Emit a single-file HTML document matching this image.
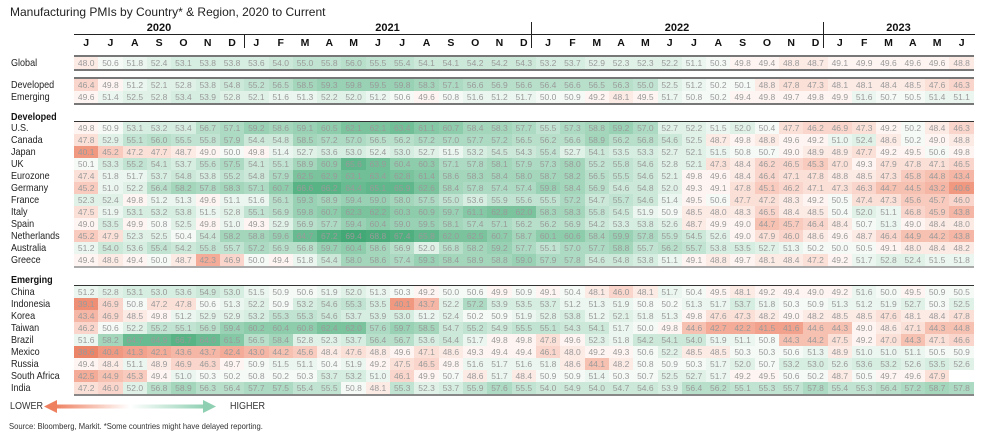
<!DOCTYPE html>
<html><head><meta charset="utf-8">
<style>
*{margin:0;padding:0;box-sizing:border-box}
body{width:984px;height:435px;background:#fff;position:relative;overflow:hidden;font-family:"Liberation Sans Narrow","Liberation Sans",sans-serif;color:#222}
.abs{position:absolute}
table{border-collapse:collapse;table-layout:fixed;width:900px}
td{height:12px;text-align:center;font-size:8.5px;color:#9a9a9a;padding:0;line-height:12px;overflow:hidden;white-space:nowrap}
.lab{position:absolute;left:11px;font-size:10.5px;color:#222;line-height:12px;transform:scaleX(0.86);transform-origin:left center;white-space:nowrap}
.hd{font-weight:bold;color:#111}
.k38{background:rgb(236,132,104)}.k39{background:rgb(238,142,116)}.k40{background:rgb(240,152,128)}.k41{background:rgb(242,162,140)}
.k42{background:rgb(244,172,152)}.k43{background:rgb(245,182,165)}.k44{background:rgb(247,193,178)}.k45{background:rgb(248,203,190)}
.k46{background:rgb(249,213,203)}.k47{background:rgb(251,224,216)}.k48{background:rgb(252,234,229)}.k49{background:rgb(254,245,242)}
.k50{background:rgb(245,250,247)}.k51{background:rgb(235,246,240)}.k52{background:rgb(224,241,232)}.k53{background:rgb(214,237,225)}
.k54{background:rgb(204,232,217)}.k55{background:rgb(193,228,210)}.k56{background:rgb(183,223,202)}.k57{background:rgb(173,218,195)}
.k58{background:rgb(163,214,187)}.k59{background:rgb(152,209,180)}.k60{background:rgb(142,205,172)}.k61{background:rgb(132,200,165)}
.k62{background:rgb(122,195,157)}.k63{background:rgb(113,191,151)}.k64{background:rgb(104,187,145)}.k65{background:rgb(96,183,139)}
.k66{background:rgb(88,179,133)}.k67{background:rgb(80,175,127)}.k68{background:rgb(72,171,121)}.k69{background:rgb(66,168,117)}
.mo td{font-size:10.5px;font-weight:bold;color:#111;height:14px}
</style></head><body>
<div class="abs" style="left:10px;top:5px;font-size:12px;color:#222;font-family:'Liberation Sans',sans-serif">Manufacturing PMIs by Country* &amp; Region, 2020 to Current</div>

<div class="abs hd" style="left:74px;top:22px;width:170px;text-align:center;font-size:11px">2020</div>
<div class="abs hd" style="left:244px;top:22px;width:287px;text-align:center;font-size:11px">2021</div>
<div class="abs hd" style="left:531px;top:22px;width:292px;text-align:center;font-size:11px">2022</div>
<div class="abs hd" style="left:823px;top:22px;width:151px;text-align:center;font-size:11px">2023</div>
<div class="abs" style="left:74px;top:34px;width:901px;height:1px;background:#222"></div>
<div class="abs" style="left:244px;top:35px;width:1px;height:13px;background:#222"></div>
<div class="abs" style="left:531px;top:22px;width:1px;height:26px;background:#222"></div>
<div class="abs" style="left:823px;top:22px;width:1px;height:26px;background:#222"></div>
<div class="abs" style="left:74px;top:36px"><table class="mo"><tr><td>J</td><td>J</td><td>A</td><td>S</td><td>O</td><td>N</td><td>D</td><td>J</td><td>F</td><td>M</td><td>A</td><td>M</td><td>J</td><td>J</td><td>A</td><td>S</td><td>O</td><td>N</td><td>D</td><td>J</td><td>F</td><td>M</td><td>A</td><td>M</td><td>J</td><td>J</td><td>A</td><td>S</td><td>O</td><td>N</td><td>D</td><td>J</td><td>F</td><td>M</td><td>A</td><td>M</td><td>J</td></tr></table></div>

<div class="lab" style="top:57px">Global</div>
<div class="abs" style="left:74px;top:55px;border-top:2px solid #777;border-bottom:2px solid #777"><table><tr><td class="k48">48.0</td><td class="k50">50.6</td><td class="k51">51.8</td><td class="k52">52.4</td><td class="k53">53.1</td><td class="k53">53.8</td><td class="k53">53.8</td><td class="k53">53.6</td><td class="k54">54.0</td><td class="k55">55.0</td><td class="k55">55.8</td><td class="k56">56.0</td><td class="k55">55.5</td><td class="k55">55.4</td><td class="k54">54.1</td><td class="k54">54.1</td><td class="k54">54.2</td><td class="k54">54.2</td><td class="k54">54.3</td><td class="k53">53.2</td><td class="k53">53.7</td><td class="k52">52.9</td><td class="k52">52.3</td><td class="k52">52.3</td><td class="k52">52.2</td><td class="k51">51.1</td><td class="k50">50.3</td><td class="k49">49.8</td><td class="k49">49.4</td><td class="k48">48.8</td><td class="k48">48.7</td><td class="k49">49.1</td><td class="k49">49.9</td><td class="k49">49.6</td><td class="k49">49.6</td><td class="k49">49.6</td><td class="k48">48.8</td></tr></table></div>

<div class="lab" style="top:79px">Developed</div>
<div class="lab" style="top:91px">Emerging</div>
<div class="abs" style="left:74px;top:77px;border-top:2px solid #777;border-bottom:2px solid #777"><table>
<tr><td class="k46">46.4</td><td class="k49">49.8</td><td class="k51">51.2</td><td class="k52">52.1</td><td class="k52">52.8</td><td class="k53">53.8</td><td class="k54">54.8</td><td class="k55">55.2</td><td class="k56">56.5</td><td class="k58">58.5</td><td class="k59">59.3</td><td class="k59">59.8</td><td class="k59">59.5</td><td class="k59">59.8</td><td class="k58">58.3</td><td class="k57">57.1</td><td class="k56">56.6</td><td class="k56">56.9</td><td class="k56">56.6</td><td class="k56">56.4</td><td class="k56">56.6</td><td class="k56">56.5</td><td class="k56">56.3</td><td class="k55">55.0</td><td class="k52">52.5</td><td class="k51">51.2</td><td class="k50">50.2</td><td class="k50">50.1</td><td class="k48">48.8</td><td class="k47">47.8</td><td class="k47">47.3</td><td class="k48">48.1</td><td class="k48">48.1</td><td class="k48">48.4</td><td class="k48">48.5</td><td class="k47">47.6</td><td class="k46">46.3</td></tr>
<tr><td class="k49">49.6</td><td class="k51">51.4</td><td class="k52">52.5</td><td class="k52">52.8</td><td class="k53">53.4</td><td class="k53">53.9</td><td class="k52">52.8</td><td class="k52">52.1</td><td class="k51">51.6</td><td class="k51">51.3</td><td class="k52">52.2</td><td class="k52">52.0</td><td class="k51">51.2</td><td class="k50">50.6</td><td class="k49">49.6</td><td class="k50">50.8</td><td class="k51">51.6</td><td class="k51">51.2</td><td class="k51">51.7</td><td class="k50">50.0</td><td class="k50">50.9</td><td class="k49">49.2</td><td class="k48">48.1</td><td class="k49">49.5</td><td class="k51">51.7</td><td class="k50">50.8</td><td class="k50">50.2</td><td class="k49">49.4</td><td class="k49">49.8</td><td class="k49">49.7</td><td class="k49">49.8</td><td class="k49">49.9</td><td class="k51">51.6</td><td class="k50">50.7</td><td class="k50">50.5</td><td class="k51">51.4</td><td class="k51">51.1</td></tr>
</table></div>

<div class="lab hd" style="top:111px">Developed</div>
<div class="lab" style="top:122px">U.S.</div>
<div class="lab" style="top:134px">Canada</div>
<div class="lab" style="top:146px">Japan</div>
<div class="lab" style="top:158px">UK</div>
<div class="lab" style="top:170px">Eurozone</div>
<div class="lab" style="top:182px">Germany</div>
<div class="lab" style="top:194px">France</div>
<div class="lab" style="top:206px">Italy</div>
<div class="lab" style="top:218px">Spain</div>
<div class="lab" style="top:230px">Netherlands</div>
<div class="lab" style="top:242px">Australia</div>
<div class="lab" style="top:254px">Greece</div>
<div class="abs" style="left:74px;top:121px;border-top:1px solid #333;border-bottom:2px solid #aaa"><table>
<tr><td class="k49">49.8</td><td class="k50">50.9</td><td class="k53">53.1</td><td class="k53">53.2</td><td class="k53">53.4</td><td class="k56">56.7</td><td class="k57">57.1</td><td class="k59">59.2</td><td class="k58">58.6</td><td class="k59">59.1</td><td class="k60">60.5</td><td class="k62">62.1</td><td class="k62">62.1</td><td class="k63">63.4</td><td class="k61">61.1</td><td class="k60">60.7</td><td class="k58">58.4</td><td class="k58">58.3</td><td class="k57">57.7</td><td class="k55">55.5</td><td class="k57">57.3</td><td class="k58">58.8</td><td class="k59">59.2</td><td class="k57">57.0</td><td class="k52">52.7</td><td class="k52">52.2</td><td class="k51">51.5</td><td class="k52">52.0</td><td class="k50">50.4</td><td class="k47">47.7</td><td class="k46">46.2</td><td class="k46">46.9</td><td class="k47">47.3</td><td class="k49">49.2</td><td class="k50">50.2</td><td class="k48">48.4</td><td class="k46">46.3</td></tr>
<tr><td class="k47">47.8</td><td class="k52">52.9</td><td class="k55">55.1</td><td class="k56">56.0</td><td class="k55">55.5</td><td class="k55">55.8</td><td class="k57">57.9</td><td class="k54">54.4</td><td class="k54">54.8</td><td class="k58">58.5</td><td class="k57">57.2</td><td class="k57">57.0</td><td class="k56">56.5</td><td class="k56">56.2</td><td class="k57">57.2</td><td class="k57">57.0</td><td class="k57">57.7</td><td class="k57">57.2</td><td class="k56">56.5</td><td class="k56">56.2</td><td class="k56">56.6</td><td class="k58">58.9</td><td class="k56">56.2</td><td class="k56">56.8</td><td class="k54">54.6</td><td class="k52">52.5</td><td class="k48">48.7</td><td class="k49">49.8</td><td class="k48">48.8</td><td class="k49">49.6</td><td class="k49">49.2</td><td class="k51">51.0</td><td class="k52">52.4</td><td class="k48">48.6</td><td class="k50">50.2</td><td class="k49">49.0</td><td class="k48">48.8</td></tr>
<tr><td class="k40">40.1</td><td class="k45">45.2</td><td class="k47">47.2</td><td class="k47">47.7</td><td class="k48">48.7</td><td class="k49">49.0</td><td class="k50">50.0</td><td class="k49">49.8</td><td class="k51">51.4</td><td class="k52">52.7</td><td class="k53">53.6</td><td class="k53">53.0</td><td class="k52">52.4</td><td class="k53">53.0</td><td class="k52">52.7</td><td class="k51">51.5</td><td class="k53">53.2</td><td class="k54">54.5</td><td class="k54">54.3</td><td class="k55">55.4</td><td class="k52">52.7</td><td class="k54">54.1</td><td class="k53">53.5</td><td class="k53">53.3</td><td class="k52">52.7</td><td class="k52">52.1</td><td class="k51">51.5</td><td class="k50">50.8</td><td class="k50">50.7</td><td class="k49">49.0</td><td class="k48">48.9</td><td class="k48">48.9</td><td class="k47">47.7</td><td class="k49">49.2</td><td class="k49">49.5</td><td class="k50">50.6</td><td class="k49">49.8</td></tr>
<tr><td class="k50">50.1</td><td class="k53">53.3</td><td class="k55">55.2</td><td class="k54">54.1</td><td class="k53">53.7</td><td class="k55">55.6</td><td class="k57">57.5</td><td class="k54">54.1</td><td class="k55">55.1</td><td class="k58">58.9</td><td class="k60">60.9</td><td class="k65">65.6</td><td class="k63">63.9</td><td class="k60">60.4</td><td class="k60">60.3</td><td class="k57">57.1</td><td class="k57">57.8</td><td class="k58">58.1</td><td class="k57">57.9</td><td class="k57">57.3</td><td class="k58">58.0</td><td class="k55">55.2</td><td class="k55">55.8</td><td class="k54">54.6</td><td class="k52">52.8</td><td class="k52">52.1</td><td class="k47">47.3</td><td class="k48">48.4</td><td class="k46">46.2</td><td class="k46">46.5</td><td class="k45">45.3</td><td class="k47">47.0</td><td class="k49">49.3</td><td class="k47">47.9</td><td class="k47">47.8</td><td class="k47">47.1</td><td class="k46">46.5</td></tr>
<tr><td class="k47">47.4</td><td class="k51">51.8</td><td class="k51">51.7</td><td class="k53">53.7</td><td class="k54">54.8</td><td class="k53">53.8</td><td class="k55">55.2</td><td class="k54">54.8</td><td class="k57">57.9</td><td class="k62">62.5</td><td class="k62">62.9</td><td class="k63">63.1</td><td class="k63">63.4</td><td class="k62">62.8</td><td class="k61">61.4</td><td class="k58">58.6</td><td class="k58">58.3</td><td class="k58">58.4</td><td class="k58">58.0</td><td class="k58">58.7</td><td class="k58">58.2</td><td class="k56">56.5</td><td class="k55">55.5</td><td class="k54">54.6</td><td class="k52">52.1</td><td class="k49">49.8</td><td class="k49">49.6</td><td class="k48">48.4</td><td class="k46">46.4</td><td class="k47">47.1</td><td class="k47">47.8</td><td class="k48">48.8</td><td class="k48">48.5</td><td class="k47">47.3</td><td class="k45">45.8</td><td class="k44">44.8</td><td class="k43">43.4</td></tr>
<tr><td class="k45">45.2</td><td class="k51">51.0</td><td class="k52">52.2</td><td class="k56">56.4</td><td class="k58">58.2</td><td class="k57">57.8</td><td class="k58">58.3</td><td class="k57">57.1</td><td class="k60">60.7</td><td class="k66">66.6</td><td class="k66">66.2</td><td class="k64">64.4</td><td class="k65">65.1</td><td class="k65">65.9</td><td class="k62">62.6</td><td class="k58">58.4</td><td class="k57">57.8</td><td class="k57">57.4</td><td class="k57">57.4</td><td class="k59">59.8</td><td class="k58">58.4</td><td class="k56">56.9</td><td class="k54">54.6</td><td class="k54">54.8</td><td class="k52">52.0</td><td class="k49">49.3</td><td class="k49">49.1</td><td class="k47">47.8</td><td class="k45">45.1</td><td class="k46">46.2</td><td class="k47">47.1</td><td class="k47">47.3</td><td class="k46">46.3</td><td class="k44">44.7</td><td class="k44">44.5</td><td class="k43">43.2</td><td class="k40">40.6</td></tr>
<tr><td class="k52">52.3</td><td class="k52">52.4</td><td class="k49">49.8</td><td class="k51">51.2</td><td class="k51">51.3</td><td class="k49">49.6</td><td class="k51">51.1</td><td class="k51">51.6</td><td class="k56">56.1</td><td class="k59">59.3</td><td class="k58">58.9</td><td class="k59">59.4</td><td class="k59">59.0</td><td class="k58">58.0</td><td class="k57">57.5</td><td class="k55">55.0</td><td class="k53">53.6</td><td class="k55">55.9</td><td class="k55">55.6</td><td class="k55">55.5</td><td class="k57">57.2</td><td class="k54">54.7</td><td class="k55">55.7</td><td class="k54">54.6</td><td class="k51">51.4</td><td class="k49">49.5</td><td class="k50">50.6</td><td class="k47">47.7</td><td class="k47">47.2</td><td class="k48">48.3</td><td class="k49">49.2</td><td class="k50">50.5</td><td class="k47">47.4</td><td class="k47">47.3</td><td class="k45">45.6</td><td class="k45">45.7</td><td class="k46">46.0</td></tr>
<tr><td class="k47">47.5</td><td class="k51">51.9</td><td class="k53">53.1</td><td class="k53">53.2</td><td class="k53">53.8</td><td class="k51">51.5</td><td class="k52">52.8</td><td class="k55">55.1</td><td class="k56">56.9</td><td class="k59">59.8</td><td class="k60">60.7</td><td class="k62">62.3</td><td class="k62">62.2</td><td class="k60">60.3</td><td class="k60">60.9</td><td class="k59">59.7</td><td class="k61">61.1</td><td class="k62">62.8</td><td class="k62">62.0</td><td class="k58">58.3</td><td class="k58">58.3</td><td class="k55">55.8</td><td class="k54">54.5</td><td class="k51">51.9</td><td class="k50">50.9</td><td class="k48">48.5</td><td class="k48">48.0</td><td class="k48">48.3</td><td class="k46">46.5</td><td class="k48">48.4</td><td class="k48">48.5</td><td class="k50">50.4</td><td class="k52">52.0</td><td class="k51">51.1</td><td class="k46">46.8</td><td class="k45">45.9</td><td class="k43">43.8</td></tr>
<tr><td class="k49">49.0</td><td class="k53">53.5</td><td class="k49">49.9</td><td class="k50">50.8</td><td class="k52">52.5</td><td class="k49">49.8</td><td class="k51">51.0</td><td class="k49">49.3</td><td class="k52">52.9</td><td class="k56">56.9</td><td class="k57">57.7</td><td class="k59">59.4</td><td class="k60">60.4</td><td class="k59">59.0</td><td class="k59">59.5</td><td class="k58">58.1</td><td class="k57">57.4</td><td class="k57">57.1</td><td class="k56">56.2</td><td class="k56">56.2</td><td class="k56">56.9</td><td class="k54">54.2</td><td class="k53">53.3</td><td class="k53">53.8</td><td class="k52">52.6</td><td class="k48">48.7</td><td class="k49">49.9</td><td class="k49">49.0</td><td class="k44">44.7</td><td class="k45">45.7</td><td class="k46">46.4</td><td class="k48">48.4</td><td class="k50">50.7</td><td class="k51">51.3</td><td class="k49">49.0</td><td class="k48">48.4</td><td class="k48">48.0</td></tr>
<tr><td class="k45">45.2</td><td class="k47">47.9</td><td class="k52">52.3</td><td class="k52">52.5</td><td class="k50">50.4</td><td class="k54">54.4</td><td class="k58">58.2</td><td class="k58">58.8</td><td class="k59">59.6</td><td class="k64">64.7</td><td class="k67">67.2</td><td class="k69">69.4</td><td class="k68">68.8</td><td class="k67">67.4</td><td class="k65">65.8</td><td class="k62">62.0</td><td class="k62">62.5</td><td class="k60">60.7</td><td class="k58">58.7</td><td class="k60">60.1</td><td class="k60">60.6</td><td class="k58">58.4</td><td class="k59">59.9</td><td class="k57">57.8</td><td class="k55">55.9</td><td class="k54">54.5</td><td class="k52">52.6</td><td class="k49">49.0</td><td class="k47">47.9</td><td class="k46">46.0</td><td class="k48">48.6</td><td class="k49">49.6</td><td class="k48">48.7</td><td class="k46">46.4</td><td class="k44">44.9</td><td class="k44">44.2</td><td class="k43">43.8</td></tr>
<tr><td class="k51">51.2</td><td class="k54">54.0</td><td class="k53">53.6</td><td class="k55">55.4</td><td class="k54">54.2</td><td class="k55">55.8</td><td class="k55">55.7</td><td class="k57">57.2</td><td class="k56">56.9</td><td class="k56">56.8</td><td class="k59">59.7</td><td class="k60">60.4</td><td class="k58">58.6</td><td class="k56">56.9</td><td class="k52">52.0</td><td class="k56">56.8</td><td class="k58">58.2</td><td class="k59">59.2</td><td class="k57">57.7</td><td class="k55">55.1</td><td class="k57">57.0</td><td class="k57">57.7</td><td class="k58">58.8</td><td class="k55">55.7</td><td class="k56">56.2</td><td class="k55">55.7</td><td class="k53">53.8</td><td class="k53">53.5</td><td class="k52">52.7</td><td class="k51">51.3</td><td class="k50">50.2</td><td class="k50">50.0</td><td class="k50">50.5</td><td class="k49">49.1</td><td class="k48">48.0</td><td class="k48">48.4</td><td class="k48">48.2</td></tr>
<tr><td class="k49">49.4</td><td class="k48">48.6</td><td class="k49">49.4</td><td class="k50">50.0</td><td class="k48">48.7</td><td class="k42">42.3</td><td class="k46">46.9</td><td class="k50">50.0</td><td class="k49">49.4</td><td class="k51">51.8</td><td class="k54">54.4</td><td class="k58">58.0</td><td class="k58">58.6</td><td class="k57">57.4</td><td class="k59">59.3</td><td class="k58">58.4</td><td class="k58">58.9</td><td class="k58">58.8</td><td class="k59">59.0</td><td class="k57">57.9</td><td class="k57">57.8</td><td class="k54">54.6</td><td class="k54">54.8</td><td class="k53">53.8</td><td class="k51">51.1</td><td class="k49">49.1</td><td class="k48">48.8</td><td class="k49">49.7</td><td class="k48">48.1</td><td class="k48">48.4</td><td class="k47">47.2</td><td class="k49">49.2</td><td class="k51">51.7</td><td class="k52">52.8</td><td class="k52">52.4</td><td class="k51">51.5</td><td class="k51">51.8</td></tr>
</table></div>

<div class="lab hd" style="top:274px">Emerging</div>
<div class="lab" style="top:286px">China</div>
<div class="lab" style="top:298px">Indonesia</div>
<div class="lab" style="top:310px">Korea</div>
<div class="lab" style="top:322px">Taiwan</div>
<div class="lab" style="top:334px">Brazil</div>
<div class="lab" style="top:346px">Mexico</div>
<div class="lab" style="top:358px">Russia</div>
<div class="lab" style="top:370px">South Africa</div>
<div class="lab" style="top:382px">India</div>
<div class="abs" style="left:74px;top:285px;border-top:1px solid #333;border-bottom:2px solid #888"><table>
<tr><td class="k51">51.2</td><td class="k52">52.8</td><td class="k53">53.1</td><td class="k53">53.0</td><td class="k53">53.6</td><td class="k54">54.9</td><td class="k53">53.0</td><td class="k51">51.5</td><td class="k50">50.9</td><td class="k50">50.6</td><td class="k51">51.9</td><td class="k52">52.0</td><td class="k51">51.3</td><td class="k50">50.3</td><td class="k49">49.2</td><td class="k50">50.0</td><td class="k50">50.6</td><td class="k49">49.9</td><td class="k50">50.9</td><td class="k49">49.1</td><td class="k50">50.4</td><td class="k48">48.1</td><td class="k46">46.0</td><td class="k48">48.1</td><td class="k51">51.7</td><td class="k50">50.4</td><td class="k49">49.5</td><td class="k48">48.1</td><td class="k49">49.2</td><td class="k49">49.4</td><td class="k49">49.0</td><td class="k49">49.2</td><td class="k51">51.6</td><td class="k50">50.0</td><td class="k49">49.5</td><td class="k50">50.9</td><td class="k50">50.5</td></tr>
<tr><td class="k39">39.1</td><td class="k46">46.9</td><td class="k50">50.8</td><td class="k47">47.2</td><td class="k47">47.8</td><td class="k50">50.6</td><td class="k51">51.3</td><td class="k52">52.2</td><td class="k50">50.9</td><td class="k53">53.2</td><td class="k54">54.6</td><td class="k55">55.3</td><td class="k53">53.5</td><td class="k40">40.1</td><td class="k43">43.7</td><td class="k52">52.2</td><td class="k57">57.2</td><td class="k53">53.9</td><td class="k53">53.5</td><td class="k53">53.7</td><td class="k51">51.2</td><td class="k51">51.3</td><td class="k51">51.9</td><td class="k50">50.8</td><td class="k50">50.2</td><td class="k51">51.3</td><td class="k51">51.7</td><td class="k53">53.7</td><td class="k51">51.8</td><td class="k50">50.3</td><td class="k50">50.9</td><td class="k51">51.3</td><td class="k51">51.2</td><td class="k51">51.9</td><td class="k52">52.7</td><td class="k50">50.3</td><td class="k52">52.5</td></tr>
<tr><td class="k43">43.4</td><td class="k46">46.9</td><td class="k48">48.5</td><td class="k49">49.8</td><td class="k51">51.2</td><td class="k52">52.9</td><td class="k52">52.9</td><td class="k53">53.2</td><td class="k55">55.3</td><td class="k55">55.3</td><td class="k54">54.6</td><td class="k53">53.7</td><td class="k53">53.9</td><td class="k53">53.0</td><td class="k51">51.2</td><td class="k52">52.4</td><td class="k50">50.2</td><td class="k50">50.9</td><td class="k51">51.9</td><td class="k52">52.8</td><td class="k53">53.8</td><td class="k51">51.2</td><td class="k52">52.1</td><td class="k51">51.8</td><td class="k51">51.3</td><td class="k49">49.8</td><td class="k47">47.6</td><td class="k47">47.3</td><td class="k48">48.2</td><td class="k49">49.0</td><td class="k48">48.2</td><td class="k48">48.5</td><td class="k48">48.5</td><td class="k47">47.6</td><td class="k48">48.1</td><td class="k48">48.4</td><td class="k47">47.8</td></tr>
<tr><td class="k46">46.2</td><td class="k50">50.6</td><td class="k52">52.2</td><td class="k55">55.2</td><td class="k55">55.1</td><td class="k56">56.9</td><td class="k59">59.4</td><td class="k60">60.2</td><td class="k60">60.4</td><td class="k60">60.8</td><td class="k62">62.4</td><td class="k62">62.0</td><td class="k57">57.6</td><td class="k59">59.7</td><td class="k58">58.5</td><td class="k54">54.7</td><td class="k55">55.2</td><td class="k54">54.9</td><td class="k55">55.5</td><td class="k55">55.1</td><td class="k54">54.3</td><td class="k54">54.1</td><td class="k51">51.7</td><td class="k50">50.0</td><td class="k49">49.8</td><td class="k44">44.6</td><td class="k42">42.7</td><td class="k42">42.2</td><td class="k41">41.5</td><td class="k41">41.6</td><td class="k44">44.6</td><td class="k44">44.3</td><td class="k49">49.0</td><td class="k48">48.6</td><td class="k47">47.1</td><td class="k44">44.3</td><td class="k44">44.8</td></tr>
<tr><td class="k51">51.6</td><td class="k58">58.2</td><td class="k64">64.7</td><td class="k64">64.9</td><td class="k66">66.7</td><td class="k64">64.0</td><td class="k61">61.5</td><td class="k56">56.5</td><td class="k58">58.4</td><td class="k52">52.8</td><td class="k52">52.3</td><td class="k53">53.7</td><td class="k56">56.4</td><td class="k56">56.7</td><td class="k53">53.6</td><td class="k54">54.4</td><td class="k51">51.7</td><td class="k49">49.8</td><td class="k49">49.8</td><td class="k47">47.8</td><td class="k49">49.6</td><td class="k52">52.3</td><td class="k51">51.8</td><td class="k54">54.2</td><td class="k54">54.1</td><td class="k54">54.0</td><td class="k51">51.9</td><td class="k51">51.1</td><td class="k50">50.8</td><td class="k44">44.3</td><td class="k44">44.2</td><td class="k47">47.5</td><td class="k49">49.2</td><td class="k47">47.0</td><td class="k44">44.3</td><td class="k47">47.1</td><td class="k46">46.6</td></tr>
<tr><td class="k38">38.6</td><td class="k40">40.4</td><td class="k41">41.3</td><td class="k42">42.1</td><td class="k43">43.6</td><td class="k43">43.7</td><td class="k42">42.4</td><td class="k43">43.0</td><td class="k44">44.2</td><td class="k45">45.6</td><td class="k48">48.4</td><td class="k47">47.6</td><td class="k48">48.8</td><td class="k49">49.6</td><td class="k47">47.1</td><td class="k48">48.6</td><td class="k49">49.3</td><td class="k49">49.4</td><td class="k49">49.4</td><td class="k46">46.1</td><td class="k48">48.0</td><td class="k49">49.2</td><td class="k49">49.3</td><td class="k50">50.6</td><td class="k52">52.2</td><td class="k48">48.5</td><td class="k48">48.5</td><td class="k50">50.3</td><td class="k50">50.3</td><td class="k50">50.6</td><td class="k51">51.3</td><td class="k48">48.9</td><td class="k51">51.0</td><td class="k51">51.0</td><td class="k51">51.1</td><td class="k50">50.5</td><td class="k50">50.9</td></tr>
<tr><td class="k49">49.4</td><td class="k48">48.4</td><td class="k51">51.1</td><td class="k48">48.9</td><td class="k46">46.9</td><td class="k46">46.3</td><td class="k49">49.7</td><td class="k50">50.9</td><td class="k51">51.5</td><td class="k51">51.1</td><td class="k50">50.4</td><td class="k51">51.9</td><td class="k49">49.2</td><td class="k47">47.5</td><td class="k46">46.5</td><td class="k49">49.8</td><td class="k51">51.6</td><td class="k51">51.7</td><td class="k51">51.6</td><td class="k51">51.8</td><td class="k48">48.6</td><td class="k44">44.1</td><td class="k48">48.2</td><td class="k50">50.8</td><td class="k50">50.9</td><td class="k50">50.3</td><td class="k51">51.7</td><td class="k52">52.0</td><td class="k50">50.7</td><td class="k53">53.2</td><td class="k53">53.0</td><td class="k52">52.6</td><td class="k53">53.6</td><td class="k53">53.2</td><td class="k52">52.6</td><td class="k53">53.5</td><td class="k52">52.6</td></tr>
<tr><td class="k42">42.5</td><td class="k44">44.9</td><td class="k45">45.3</td><td class="k49">49.4</td><td class="k51">51.0</td><td class="k50">50.3</td><td class="k50">50.2</td><td class="k50">50.8</td><td class="k50">50.2</td><td class="k50">50.3</td><td class="k53">53.7</td><td class="k53">53.2</td><td class="k51">51.0</td><td class="k46">46.1</td><td class="k49">49.9</td><td class="k50">50.7</td><td class="k48">48.6</td><td class="k51">51.7</td><td class="k48">48.4</td><td class="k50">50.9</td><td class="k50">50.9</td><td class="k51">51.4</td><td class="k50">50.3</td><td class="k50">50.7</td><td class="k52">52.5</td><td class="k52">52.7</td><td class="k51">51.7</td><td class="k49">49.2</td><td class="k49">49.5</td><td class="k50">50.6</td><td class="k50">50.2</td><td class="k48">48.7</td><td class="k50">50.5</td><td class="k49">49.7</td><td class="k49">49.6</td><td class="k47">47.9</td><td></td></tr>
<tr><td class="k47">47.2</td><td class="k46">46.0</td><td class="k52">52.0</td><td class="k56">56.8</td><td class="k58">58.9</td><td class="k56">56.3</td><td class="k56">56.4</td><td class="k57">57.7</td><td class="k57">57.5</td><td class="k55">55.4</td><td class="k55">55.5</td><td class="k50">50.8</td><td class="k48">48.1</td><td class="k55">55.3</td><td class="k52">52.3</td><td class="k53">53.7</td><td class="k55">55.9</td><td class="k57">57.6</td><td class="k55">55.5</td><td class="k54">54.0</td><td class="k54">54.9</td><td class="k54">54.0</td><td class="k54">54.7</td><td class="k54">54.6</td><td class="k53">53.9</td><td class="k56">56.4</td><td class="k56">56.2</td><td class="k55">55.1</td><td class="k55">55.3</td><td class="k55">55.7</td><td class="k57">57.8</td><td class="k55">55.4</td><td class="k55">55.3</td><td class="k56">56.4</td><td class="k57">57.2</td><td class="k58">58.7</td><td class="k57">57.8</td></tr>
</table></div>

<div class="abs" style="left:10px;top:401px;font-size:10px;color:#333;transform:scaleX(0.9);transform-origin:left">LOWER</div>
<svg class="abs" style="left:44px;top:399px" width="172" height="16">
<defs><linearGradient id="g" x1="0" x2="1"><stop offset="0" stop-color="#ee7f5f"/><stop offset="0.5" stop-color="#fff"/><stop offset="1" stop-color="#8fd0b2"/></linearGradient></defs>
<rect x="10" y="5.5" width="152" height="4" fill="url(#g)"/>
<polygon points="0,7.5 13,1 13,14" fill="#ee7f5f"/>
<polygon points="172,7.5 159,1 159,14" fill="#8fd0b2"/>
</svg>
<div class="abs" style="left:230px;top:401px;font-size:10px;color:#333;transform:scaleX(0.9);transform-origin:left">HIGHER</div>
<div class="abs" style="left:9px;top:421px;font-size:8.5px;color:#333;transform:scaleX(0.9);transform-origin:left;white-space:nowrap">Source: Bloomberg, Markit. *Some countries might have delayed reporting.</div>
</body></html>
